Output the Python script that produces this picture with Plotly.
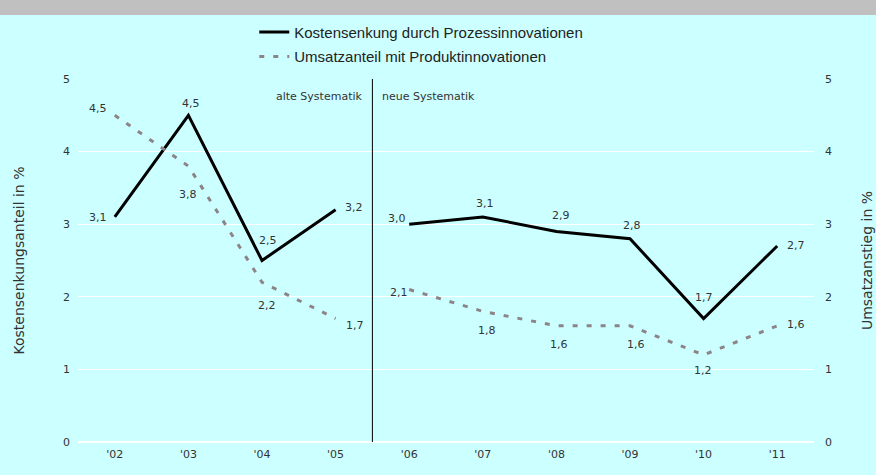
import plotly.graph_objects as go

years = ["'02", "'03", "'04", "'05", "'06", "'07", "'08", "'09", "'10", "'11"]
kosten = [3.1, 4.5, 2.5, 3.2, 3.0, 3.1, 2.9, 2.8, 1.7, 2.7]
umsatz = [4.5, 3.8, 2.2, 1.7, 2.1, 1.8, 1.6, 1.6, 1.2, 1.6]
name_k = "Kostensenkung durch Prozessinnovationen"
name_u = "Umsatzanteil mit Produktinnovationen"
split = 4  # break between old and new classification

# label offsets in px (dx, dy with dy positive = down)
kosten_off = [(-17, 1), (3, -12), (6, -20), (18, -2), (-12, -6),
              (2, -13), (5, -16), (2, -13), (0, -21), (19, 0)]
umsatz_off = [(-17, -7), (0, 28), (5, 23), (19, 7), (-10, 3),
              (4, 19), (3, 19), (6, 19), (-1, 16), (19, -1)]

def fmt(v):
    return f"{v:.1f}".replace(".", ",")

lab_font = dict(family="DejaVu Sans", size=11, color="#333333")
fig = go.Figure()
for i, (a, b) in enumerate([(0, split), (split, len(years))]):
    fig.add_trace(go.Scatter(
        x=years[a:b], y=kosten[a:b], mode="lines", name=name_k,
        line=dict(color="black", width=3),
        legendgroup="k", showlegend=(i == 0), yaxis="y"))
for i, (a, b) in enumerate([(0, split), (split, len(years))]):
    fig.add_trace(go.Scatter(
        x=years[a:b], y=umsatz[a:b], mode="lines", name=name_u,
        line=dict(color="#8c8486", width=3, dash="5px,9px"),
        legendgroup="u", showlegend=(i == 0), yaxis="y2"))

for yr, v, (dx, dy) in zip(years, kosten, kosten_off):
    fig.add_annotation(x=yr, y=v, xref="x", yref="y", text=fmt(v), showarrow=False,
                       xshift=dx, yshift=-dy, font=lab_font)
for yr, v, (dx, dy) in zip(years, umsatz, umsatz_off):
    fig.add_annotation(x=yr, y=v, xref="x", yref="y2", text=fmt(v), showarrow=False,
                       xshift=dx, yshift=-dy, font=lab_font)

fig.add_shape(type="line", xref="x", yref="y", x0=3.5, x1=3.5, y0=0, y1=5,
              line=dict(color="black", width=1))
fig.add_shape(type="rect", xref="paper", yref="paper", x0=-0.2, x1=1.2,
              y0=1.176, y1=1.3, fillcolor="#c0c0c0", line=dict(width=0), layer="above")
fig.add_annotation(x=3.5, y=5, xref="x", yref="y", text="alte Systematik", showarrow=False,
                   xanchor="right", yanchor="top", xshift=-7, yshift=-9,
                   font=dict(family="DejaVu Sans", size=11, color="#333333"))
fig.add_annotation(x=3.5, y=5, xref="x", yref="y", text="neue Systematik", showarrow=False,
                   xanchor="left", yanchor="top", xshift=8, yshift=-9,
                   font=dict(family="DejaVu Sans", size=11, color="#333333"))

tickfont = dict(family="DejaVu Sans", size=11, color="#333333")
titlefont = dict(family="DejaVu Sans", size=14, color="#333333")
fig.update_layout(
    width=876, height=475,
    margin=dict(l=78, r=62, t=79, b=33, autoexpand=False),
    paper_bgcolor="#ccffff", plot_bgcolor="#ccffff",
    showlegend=True,
    legend=dict(x=0.2395, y=1.174, xanchor="left", yanchor="top", orientation="v",
                bgcolor="rgba(0,0,0,0)", font=dict(family="Liberation Sans", size=15, color="#222222"),
                tracegroupgap=2, itemwidth=30),
    xaxis=dict(type="category", range=[-0.5, 9.5], showgrid=False, showline=False,
               ticks="", tickfont=tickfont, zeroline=False, ticklabelstandoff=4,
               automargin=False),
    yaxis=dict(range=[0, 5], dtick=1, showgrid=True, gridcolor="white", gridwidth=1,
               zeroline=True, zerolinecolor="white", showline=False, tickfont=tickfont,
               ticklabelstandoff=7, automargin=False,
               title=dict(text="Kostensenkungsanteil in %", font=titlefont, standoff=35)),
    yaxis2=dict(range=[0, 5], dtick=1, overlaying="y", side="right", showgrid=False,
                zeroline=False, showline=False, tickfont=tickfont, ticklabelstandoff=10,
                automargin=False,
                title=dict(text="Umsatzanstieg in %", font=titlefont, standoff=31)),
)
fig.write_html("out.html", post_script="document.body.style.margin='0';",
               config={"displayModeBar": False})
